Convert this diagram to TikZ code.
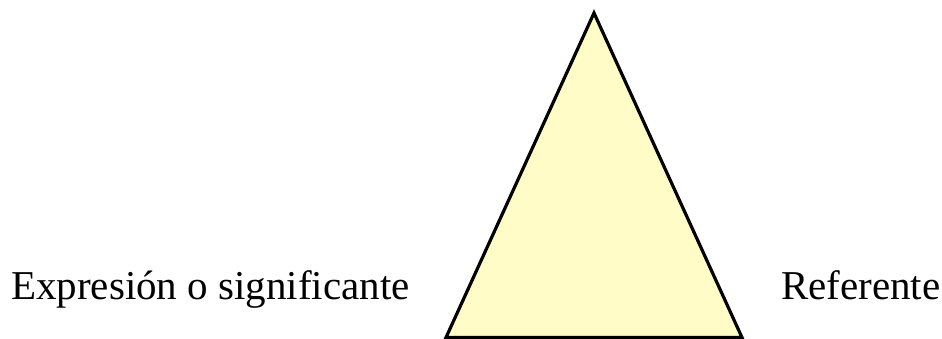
\documentclass[tikz,border=0pt]{standalone}
\usepackage{fontspec}
\setmainfont{Liberation Serif}
\definecolor{triyellow}{RGB}{255,252,200}
\begin{document}
\begin{tikzpicture}[x=1pt,y=-1pt,
  lbl/.style={inner sep=0pt,anchor=base west,font=\fontsize{41}{45}\selectfont},
  tri/.style={draw=black,fill=triyellow,line width=3.2pt,line join=miter}]
\useasboundingbox (0,0) rectangle (942,339);
\coordinate (top) at (594,13);
\coordinate (bl) at (446,337.5);
\coordinate (br) at (742,337.5);
\draw[tri] (top) -- (bl) -- (br) -- cycle;
\node[lbl] (expr) at (11,299) {Expresión o significante};
\node[lbl] (ref) at (781,299) {Referente};
\end{tikzpicture}
\end{document}
